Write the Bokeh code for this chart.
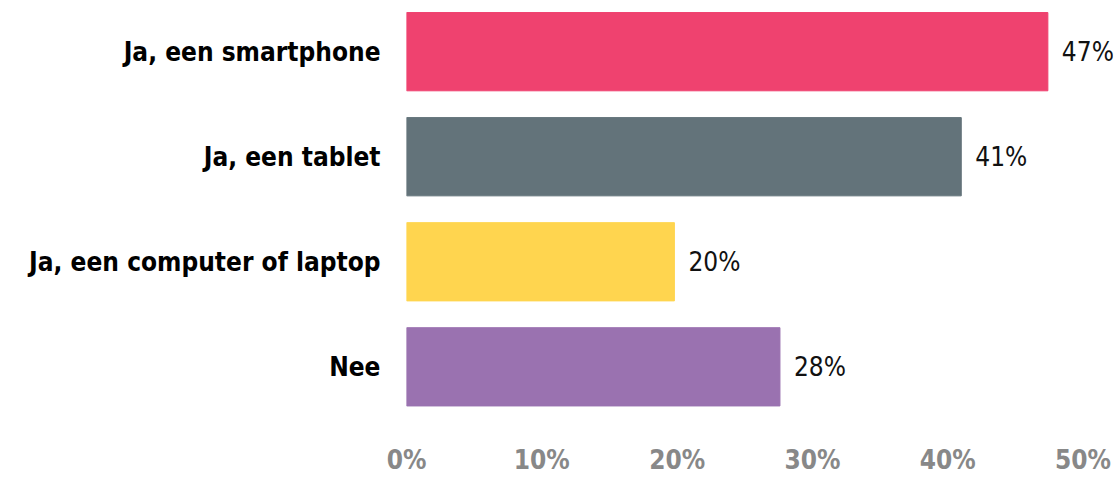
from bokeh.plotting import figure
from bokeh.models import ColumnDataSource, FixedTicker, Range1d
from bokeh.core.properties import value
from bokeh.embed import file_html
from bokeh.resources import INLINE

categories = ["Ja, een smartphone", "Ja, een tablet", "Ja, een computer of laptop", "Nee"]
values = [47.4, 41.0, 19.8, 27.6]
labels = ["47%", "41%", "20%", "28%"]
colors = ["#EF426F", "#63737A", "#FFD54F", "#9A72B0"]
ticks = [0, 10, 20, 30, 40, 50]
tick_labels = ["0%", "10%", "20%", "30%", "40%", "50%"]

ypos = [3, 2, 1, 0]
src = ColumnDataSource(dict(y=ypos, v=values, lab=labels, c=colors))

FONT = "DejaVu Sans Condensed"

p = figure(width=1116, height=477, output_backend="svg", toolbar_location=None,
           x_range=Range1d(0, 52.25), y_range=Range1d(-0.511, 3.411),
           min_border_left=406, min_border_right=3, min_border_top=8, min_border_bottom=54)
p.outline_line_color = None
p.grid.visible = False

p.hbar(y="y", right="v", left=0, height=0.745, color="c", source=src)
p.text(x="v", y="y", text="lab", source=src, x_offset=14, text_baseline="middle",
       text_align="left", text_font=value(FONT), text_font_size="26px", text_color="#111111")

p.xaxis.ticker = FixedTicker(ticks=ticks)
p.xaxis.major_label_overrides = {t: l for t, l in zip(ticks, tick_labels)}
p.xaxis.axis_line_color = None
p.xaxis.major_tick_line_color = None
p.xaxis.minor_tick_line_color = None
p.xaxis.major_tick_out = 0
p.xaxis.major_tick_in = 0
p.xaxis.major_label_standoff = 24
p.xaxis.major_label_text_font = FONT
p.xaxis.major_label_text_font_style = "bold"
p.xaxis.major_label_text_font_size = "26px"
p.xaxis.major_label_text_color = "#888888"

p.yaxis.ticker = FixedTicker(ticks=ypos)
p.yaxis.major_label_overrides = {y: c for y, c in zip(ypos, categories)}
p.yaxis.axis_line_color = None
p.yaxis.major_tick_line_color = None
p.yaxis.minor_tick_line_color = None
p.yaxis.major_tick_out = 0
p.yaxis.major_tick_in = 0
p.yaxis.major_label_standoff = 26
p.yaxis.major_label_text_font = FONT
p.yaxis.major_label_text_font_style = "bold"
p.yaxis.major_label_text_font_size = "26px"
p.yaxis.major_label_text_color = "#000000"

open("out.html", "w").write(file_html(p, INLINE))
